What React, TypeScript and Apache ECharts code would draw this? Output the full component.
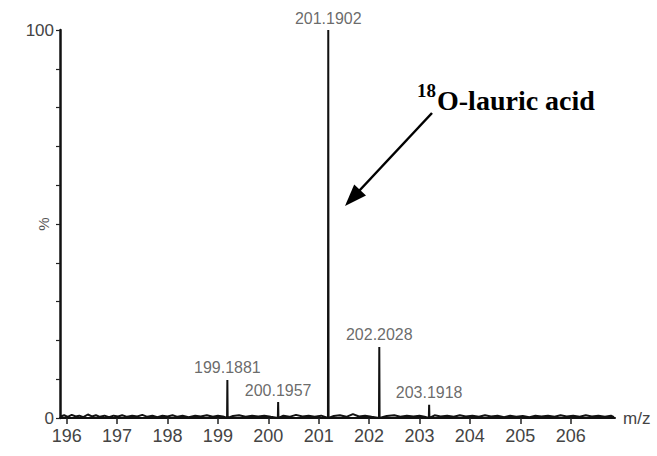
import React, { useEffect, useRef } from "react";
import * as echarts from "echarts";

// Labelled peaks: m/z and relative intensity (%)
const peakMz = [199.1881, 200.1957, 201.1902, 202.2028, 203.1918];
const peakIntensity = [9.8, 4.1, 100, 18.3, 3.4];
const peakLabels = ["199.1881", "200.1957", "201.1902", "202.2028", "203.1918"];

// Baseline noise: [m/z, %]
const noise: [number, number][] = [
  [195.88, 0.4], [195.95, 0.7], [196.02, 0.3], [196.1, 0.8], [196.18, 0.4], [196.25, 0.6],
  [196.33, 0.2], [196.42, 0.9], [196.5, 0.4], [196.58, 0.7], [196.66, 0.3], [196.75, 0.6],
  [196.84, 0.2], [196.93, 0.6], [197.02, 0.4], [197.1, 0.7], [197.2, 0.3], [197.3, 0.6],
  [197.4, 0.4], [197.5, 0.8], [197.6, 0.3], [197.7, 0.6], [197.8, 0.2], [197.9, 0.6],
  [198.0, 0.4], [198.1, 0.7], [198.2, 0.3], [198.3, 0.6], [198.42, 0.2], [198.55, 0.6],
  [198.66, 0.4], [198.78, 0.7], [198.9, 0.3], [199.0, 0.6], [199.1, 0.4], [199.3, 0.5],
  [199.42, 0.7], [199.55, 0.3], [199.68, 0.6], [199.8, 0.4], [199.92, 0.6], [200.05, 0.3],
  [200.3, 0.6], [200.42, 0.3], [200.55, 0.8], [200.68, 0.4], [200.8, 0.6], [200.92, 0.3],
  [201.05, 0.6], [201.3, 0.5], [201.42, 0.7], [201.55, 0.3], [201.68, 1.0], [201.8, 0.4],
  [201.92, 0.6], [202.05, 0.3], [202.35, 0.5], [202.5, 0.7], [202.62, 0.3], [202.75, 0.6],
  [202.88, 0.4], [203.0, 0.6], [203.1, 0.3], [203.3, 0.7], [203.42, 0.4], [203.55, 0.6],
  [203.68, 0.3], [203.8, 0.7], [203.92, 0.4], [204.05, 0.6], [204.18, 0.3], [204.3, 0.7],
  [204.42, 0.4], [204.55, 0.6], [204.68, 0.2], [204.8, 0.6], [204.92, 0.3], [205.05, 0.5],
  [205.18, 0.2], [205.3, 0.6], [205.42, 0.4], [205.55, 0.6], [205.68, 0.3], [205.8, 0.7],
  [205.92, 0.4], [206.05, 0.6], [206.18, 0.3], [206.3, 0.7], [206.42, 0.4], [206.55, 0.6],
  [206.68, 0.3], [206.8, 0.6], [206.86, 0.2],
];

const xTicks = [196, 197, 198, 199, 200, 201, 202, 203, 204, 205, 206];

export default function App() {
  const ref = useRef<HTMLDivElement>(null);
  useEffect(() => {
    if (!ref.current) return;
    const chart = echarts.init(ref.current, null, { renderer: "svg" });

    const pts: [number, number][] = [...noise];
    peakMz.forEach((m, i) => {
      pts.push([m - 0.006, 0]);
      pts.push([m, peakIntensity[i]]);
      pts.push([m + 0.006, 0]);
    });
    pts.sort((a, b) => a[0] - b[0]);

    const labelData = peakMz.map((m, i) => ({ value: [m, peakIntensity[i]], name: peakLabels[i] }));

    chart.setOption({
      animation: false,
      backgroundColor: "#ffffff",
      grid: { left: 60, right: 42, top: 30, bottom: 38, containLabel: false, outerBoundsMode: "none" },
      xAxis: {
        type: "value",
        min: 195.867,
        max: 206.88,
        name: "m/z",
        nameLocation: "end",
        nameGap: 8,
        nameTextStyle: { fontFamily: "Liberation Sans", fontSize: 17, color: "#444", verticalAlign: "middle" },
        axisLine: { show: true, lineStyle: { color: "#111", width: 2 } },
        axisTick: { show: true, length: 6, lineStyle: { color: "#222", width: 1.5 }, customValues: xTicks },
        axisLabel: {
          customValues: xTicks,
          fontFamily: "Liberation Sans",
          fontSize: 18,
          color: "#444",
          margin: 9,
        },
        splitLine: { show: false },
      },
      yAxis: {
        type: "value",
        min: 0,
        max: 100,
        interval: 10,
        name: "%",
        nameLocation: "middle",
        nameRotate: 90,
        nameGap: 9,
        nameMoveOverlap: false,
        nameTextStyle: { fontFamily: "Liberation Sans", fontSize: 15, color: "#555" },
        axisLine: { show: true, lineStyle: { color: "#111", width: 2.5 } },
        axisTick: { show: true, length: 4, lineStyle: { color: "#222", width: 1.2 } },
        axisLabel: {
          fontFamily: "Liberation Sans",
          fontSize: 17,
          color: "#444",
          margin: 6,
          formatter: (v: number) => (v === 0 || v === 100 ? String(v) : ""),
        },
        splitLine: { show: false },
      },
      series: [
        {
          type: "line",
          data: pts,
          symbol: "none",
          lineStyle: { color: "#111", width: 2 },
        },
        {
          type: "scatter",
          data: labelData,
          symbolSize: 0,
          label: {
            show: true,
            position: "top",
            distance: 4,
            formatter: (p: any) => p.name,
            fontFamily: "Liberation Sans",
            fontSize: 16,
            color: "#444",
          },
        },
      ],
      graphic: [
        {
          type: "line",
          shape: { x1: 432, y1: 113, x2: 359, y2: 191 },
          style: { stroke: "#000", lineWidth: 2.5 },
        },
        {
          type: "polygon",
          shape: { points: [[345, 206], [366, 195.4], [354.2, 184.4]] },
          style: { fill: "#000" },
        },
        {
          type: "text",
          style: {
            x: 417,
            y: 90,
            text: "18",
            font: "bold 19px 'Liberation Serif'",
            fill: "#000",
            textVerticalAlign: "middle",
          },
        },
        {
          type: "text",
          style: {
            x: 437,
            y: 100,
            text: "O-lauric acid",
            font: "bold 28px 'Liberation Serif'",
            fill: "#000",
            textVerticalAlign: "middle",
          },
        },
      ],
    });
    return () => chart.dispose();
  }, []);
  return <div ref={ref} style={{ width: 657, height: 456, position: "absolute", left: 0, top: 0 }} />;
}
